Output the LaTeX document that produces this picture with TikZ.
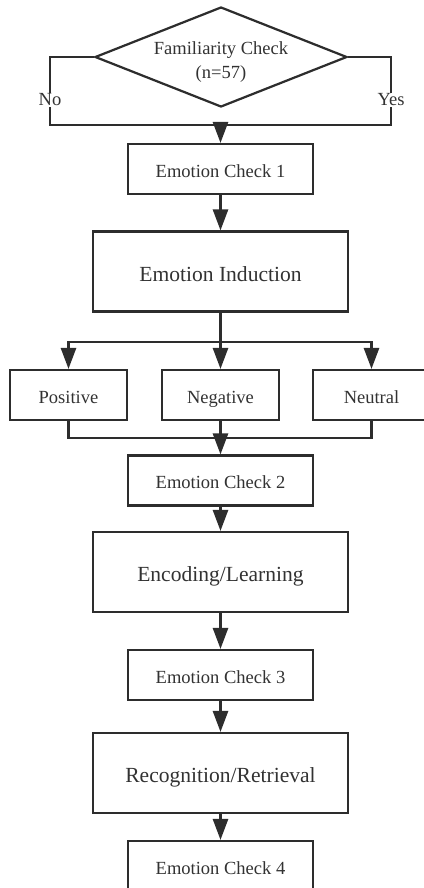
\documentclass[tikz,border=0pt]{standalone}
\usepackage{fontspec}
\setmainfont{Liberation Serif}
\usetikzlibrary{shapes.geometric,arrows.meta}
\definecolor{linegray}{RGB}{45,45,45}
\definecolor{textgray}{RGB}{50,50,50}
\tikzset{
  box/.style={draw=linegray, line width=1.9pt, text=textgray, inner sep=0pt,
    text height=15pt, text depth=0.8pt,
    minimum width=5.55cm, minimum height=1.5cm, font=\fontsize{15.8}{19}\selectfont},
  bigbox/.style={box, minimum width=7.65cm, minimum height=2.4cm,
    text height=17.5pt, text depth=1pt, font=\fontsize{18.4}{22}\selectfont},
  condbox/.style={box, minimum width=3.5cm},
  check/.style={draw=linegray, line width=1.9pt, shape=diamond, inner sep=0pt,
    minimum width=7.56cm, minimum height=3cm},
  checktext/.style={text=textgray, align=center, inner sep=0pt,
    font=\fontsize{15.8}{20.5}\selectfont},
  link/.style={draw=linegray, line width=1.9pt},
  arr/.style={link, -{Triangle[length=18pt,width=13pt]}},
  answer/.style={text=textgray, fill=white, inner sep=1pt, font=\fontsize{15.8}{19}\selectfont}
}
\begin{document}
\begin{tikzpicture}[x=0.03cm, y=-0.03cm]
\path[use as bounding box, clip] (0,0) rectangle (424,888);

   \node[check] at (221,57) (fam) {};
   \node[checktext] at (221,62.5) (famtext) {Familiarity Check\\(n=57)};
   \coordinate (noC) at (50,125);
   \coordinate (yesC) at (391,125);
   \coordinate (meet) at (220.5,125);

   \node[box] at (220.5,169) (ec1) {Emotion Check 1};
   \node[bigbox] at (220.5,271.5) (induct) {Emotion Induction};

   \coordinate (split) at (220.5,342);
   \node[condbox] at (68.5,395) (pos) {Positive};
   \node[condbox] at (220.5,395) (neg) {Negative};
   \node[condbox] at (371.5,395) (neu) {Neutral};
   \coordinate (join) at (220.5,438);

   \node[box] at (220.5,480.5) (ec2) {Emotion Check 2};
   \node[bigbox] at (220.5,572) (encode) {Encoding/Learning};
   \node[box] at (220.5,675) (ec3) {Emotion Check 3};
   \node[bigbox] at (220.5,773) (recog) {Recognition/Retrieval};
   \node[box] at (220.5,866) (ec4) {Emotion Check 4};

   % familiarity answers
   \draw[link] (fam.west) -| (noC) -- (meet);
   \draw[link] (fam.east) -| (yesC) -- (meet);
   \node[answer] at (50,100) (no) {No};
   \node[answer] at (391,100) (yes) {Yes};
   \draw[arr] (meet) -- (ec1.north);

   \draw[arr] (ec1) -- (induct);

   % conditions
   \draw[link] (induct.south) -- (split);
   \draw[arr] (split) -| (pos.north);
   \draw[arr] (split) -| (neu.north);
   \draw[arr] (split) -- (neg.north);
   \draw[link] (pos.south) |- (join);
   \draw[link] (neu.south) |- (join);
   \draw[arr] (neg.south) -- (ec2.north);

   \draw[arr] (ec2) -- (encode);
   \draw[arr] (encode) -- (ec3);
   \draw[arr] (ec3) -- (recog);
   \draw[arr] (recog) -- (ec4);

\end{tikzpicture}
\end{document}
